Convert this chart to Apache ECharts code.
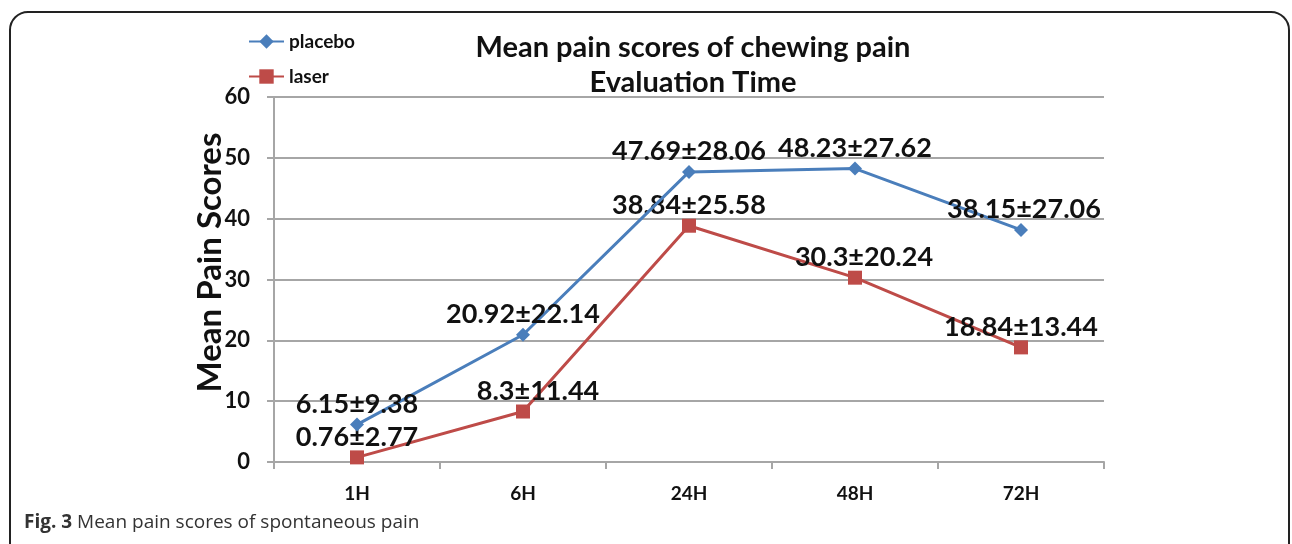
<!DOCTYPE html>
<html>
<head>
<meta charset="utf-8">
<title>Mean pain scores</title>
<script src="https://cdn.jsdelivr.net/npm/echarts@6/dist/echarts.min.js"></script>
<style>
  html, body { margin: 0; padding: 0; background: #fff; }
  #chart { width: 1292px; height: 544px; }
</style>
</head>
<body>
<div id="chart"></div>
<script>
// data
const categories = ['1H', '6H', '24H', '48H', '72H'];
const placeboMean = [6.15, 20.92, 47.69, 48.23, 38.15];
const placeboSd = [9.38, 22.14, 28.06, 27.62, 27.06];
const laserMean = [0.76, 8.3, 38.84, 30.3, 18.84];
const laserSd = [2.77, 11.44, 25.58, 20.24, 13.44];
const yTicks = [0, 10, 20, 30, 40, 50, 60];

// small nudges of the value labels as in the original
const placeboShift = [0, 0, 0, 0, 3];
const laserShift = [0, 15, 0, 9, 0];

const labelFont = 'Lato';

function buildData(mean, sd, shift) {
  return mean.map(function (m, i) {
    return {
      value: m,
      label: { offset: [shift[i], 0] },
      sd: sd[i]
    };
  });
}

function fmt(params) {
  return params.data.value + '±' + params.data.sd;
}

const chart = echarts.init(document.getElementById('chart'));

chart.setOption({
  animation: false,
  textStyle: { fontFamily: labelFont },
  title: {
    text: 'Mean pain scores of chewing pain\nEvaluation Time',
    left: 688,
    textAlign: 'center',
    top: 25,
    textStyle: {
      fontFamily: labelFont,
      fontWeight: 'bold',
      fontSize: 29,
      lineHeight: 35,
      color: '#111'
    }
  },
  legend: {
    orient: 'vertical',
    left: 243,
    top: 27,
    itemGap: 16,
    itemWidth: 35,
    itemHeight: 18,
    textStyle: { fontFamily: labelFont, fontWeight: 'bold', fontSize: 19, color: '#111' },
    data: ['placebo', 'laser']
  },
  grid: { left: 274, right: 188, top: 97, bottom: 82 },
  xAxis: {
    type: 'category',
    data: categories,
    boundaryGap: true,
    axisLine: { lineStyle: { color: '#a6a6a6', width: 2 } },
    axisTick: { show: true, length: 7, lineStyle: { color: '#a6a6a6', width: 2 } },
    axisLabel: { margin: 22, fontFamily: labelFont, fontWeight: 'bold', fontSize: 19, color: '#111' }
  },
  yAxis: {
    type: 'value',
    min: 0,
    max: 60,
    interval: 10,
    name: 'Mean Pain Scores',
    nameLocation: 'middle',
    nameGap: 47,
    nameMoveOverlap: false,
    nameRotate: 90,
    nameTextStyle: {
      fontFamily: labelFont, fontWeight: 'bold', fontSize: 33, color: '#111',
      padding: [0, 0, 0, 34]
    },
    axisLine: { show: true, lineStyle: { color: '#a6a6a6', width: 2 } },
    axisTick: { show: true, length: 7, lineStyle: { color: '#a6a6a6', width: 2 } },
    axisLabel: {
      margin: 24,
      fontFamily: labelFont, fontWeight: 'bold', fontSize: 22, color: '#111',
      formatter: function (v) { return yTicks.indexOf(v) >= 0 ? String(v) : ''; }
    },
    splitLine: { lineStyle: { color: '#a6a6a6', width: 2 } }
  },
  series: [
    {
      name: 'placebo',
      type: 'line',
      data: buildData(placeboMean, placeboSd, placeboShift),
      symbol: 'diamond',
      symbolSize: 14,
      color: '#4a7ebb',
      lineStyle: { width: 3, color: '#4a7ebb' },
      label: {
        show: true,
        position: 'top',
        distance: 0,
        formatter: fmt,
        fontFamily: labelFont,
        fontWeight: 'bold',
        fontSize: 27,
        color: '#111'
      },
      z: 3
    },
    {
      name: 'laser',
      type: 'line',
      data: buildData(laserMean, laserSd, laserShift),
      symbol: 'rect',
      symbolSize: 14,
      color: '#be4b48',
      lineStyle: { width: 3, color: '#be4b48' },
      label: {
        show: true,
        position: 'top',
        distance: 0,
        formatter: fmt,
        fontFamily: labelFont,
        fontWeight: 'bold',
        fontSize: 27,
        color: '#111'
      },
      z: 2
    }
  ],
  graphic: [
    {
      type: 'rect',
      shape: { x: 10, y: 12, width: 1279, height: 580, r: 18 },
      style: { fill: 'none', stroke: '#222', lineWidth: 2 },
      silent: true
    },
    {
      type: 'text',
      left: 24,
      top: 513,
      style: {
        text: '{b|Fig. 3} Mean pain scores of spontaneous pain',
        font: '19px "Open Sans"',
        fill: '#333',
        rich: {
          b: { fontFamily: 'Open Sans', fontWeight: 'bold', fontSize: 19, fill: '#333' }
        }
      }
    }
  ]
});
</script>
</body>
</html>
